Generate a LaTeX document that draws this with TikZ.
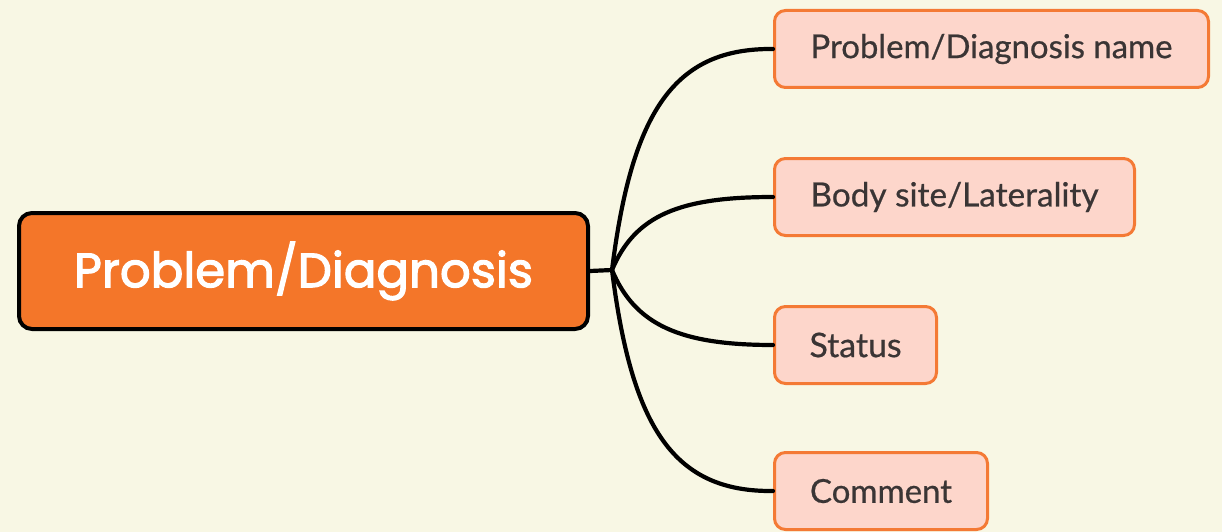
\documentclass[tikz,border=0pt]{standalone}
\usepackage{fontspec}
\usepackage{graphicx}
\setmainfont[FakeBold=0.6]{Lato}
\newfontfamily\rootfont[FakeBold=2.4]{Poppins}
\definecolor{paper}{HTML}{F8F7E4}
\definecolor{rootfill}{HTML}{F47629}
\definecolor{leaffill}{HTML}{FDD6CB}
\definecolor{leafline}{HTML}{F47A35}
\definecolor{leaftext}{HTML}{3A3535}
\newcommand{\fitto}[2]{\resizebox{#1}{!}{#2}}
\begin{document}
\begin{tikzpicture}[x=1pt,y=-1pt,
  rootbox/.style={draw=black, line width=4pt, fill=rootfill, rounded corners=13pt,
    text=white, inner sep=0pt, minimum height=116pt},
  leafbox/.style={draw=leafline, line width=3pt, fill=leaffill, rounded corners=11pt,
    text=leaftext, inner sep=0pt, minimum height=77pt},
  link/.style={draw=black, line width=4.2pt, line cap=round}]
  \fill[paper] (0,0) rectangle (1222,532);
  \useasboundingbox (0,0) rectangle (1222,532);

  % central topic
  \node[rootbox, minimum width=569pt] (root) at (303.5,271)
    {\rootfont\fitto{459pt}{Problem/Diagnosis}};

  % sub-topics
  \node[leafbox, minimum width=434pt] (name) at (991.5,49)
    {\fitto{362pt}{Problem/Diagnosis name}};
  \node[leafbox, minimum width=360pt] (site) at (954.5,197)
    {\fitto{288pt}{Body site/Laterality}};
  \node[leafbox, minimum width=162pt] (status) at (855.5,345)
    {\fitto{92pt}{Status}};
  \node[leafbox, minimum width=213pt] (comment) at (881,491)
    {\fitto{142pt}{Comment}};

  % branch point
  \coordinate (hub) at (612,270);
  \draw[link] (root.east) -- (hub);
  \draw[link] (hub) .. controls (632,110) and (675,48) .. (name.west);
  \draw[link] (hub) .. controls (635,215) and (680,197) .. (site.west);
  \draw[link] (hub) .. controls (635,325) and (680,345) .. (status.west);
  \draw[link] (hub) .. controls (632,430) and (675,492) .. (comment.west);
\end{tikzpicture}
\end{document}
